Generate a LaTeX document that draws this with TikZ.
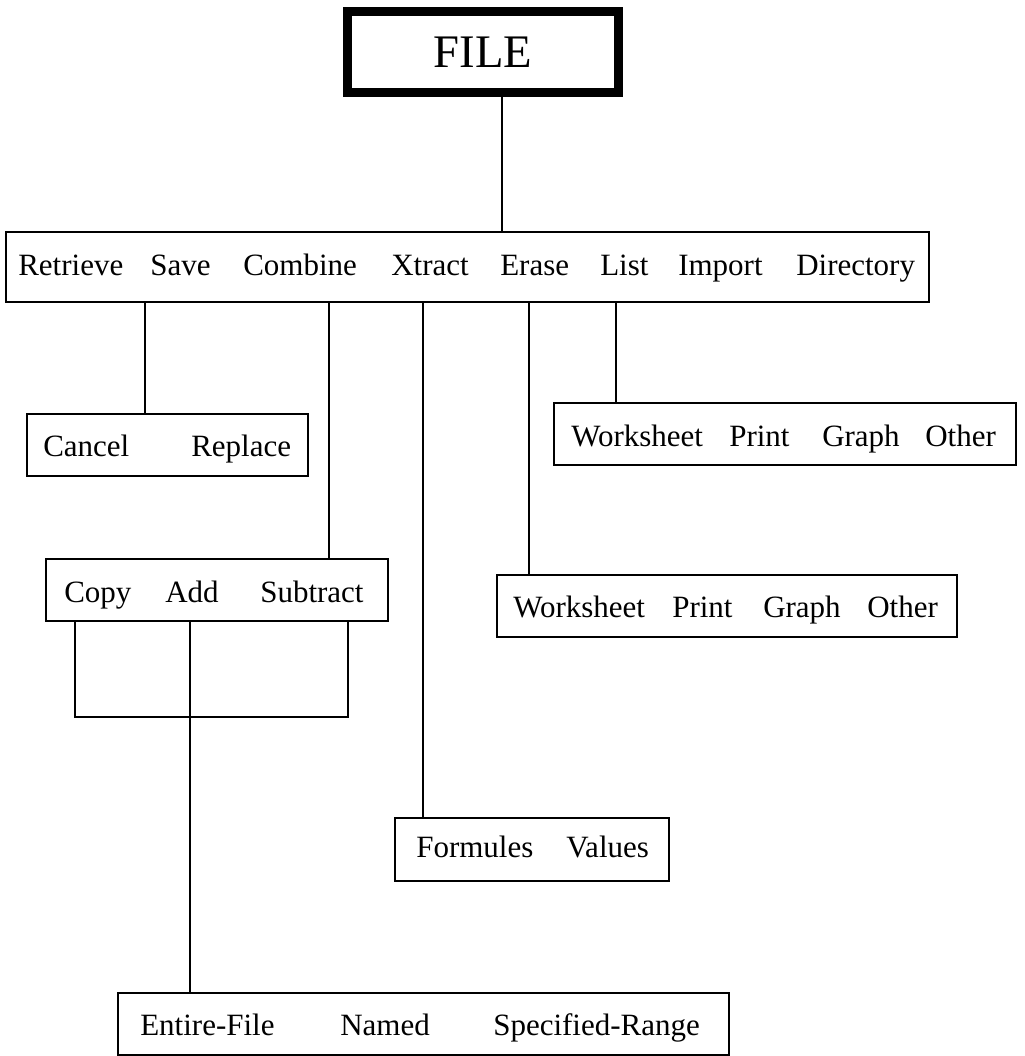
\documentclass[tikz,border=0pt]{standalone}
\usepackage{fontspec}
\setmainfont{Liberation Serif}
\begin{document}
\begin{tikzpicture}[x=0.75pt,y=-0.75pt,
  boxst/.style={draw,line width=1.1pt,inner sep=0pt,outer sep=0pt,minimum height=46.5pt},
  wd/.style={anchor=base west,inner sep=0pt,font=\fontsize{23.25pt}{28pt}\selectfont},
  conn/.style={line width=0.8pt}]
\useasboundingbox (0,0) rectangle (1024,1056);
% boxes
\node[boxst,line width=6.75pt,minimum width=203.25pt,minimum height=60.75pt,
      font=\fontsize{35pt}{40pt}\selectfont] (file) at (483,52) {FILE};
\node[boxst,minimum width=692.25pt,minimum height=52.5pt] (menu) at (467.5,267) {};
\node[boxst,minimum width=210.75pt] (cancel) at (167.5,445) {};
\node[boxst,minimum width=256.5pt] (copy) at (217,590) {};
\node[boxst,minimum width=346.5pt] (ws1) at (785,434) {};
\node[boxst,minimum width=345pt] (ws2) at (727,606) {};
\node[boxst,minimum width=205.5pt,minimum height=47.25pt] (form) at (532,849.5) {};
\node[boxst,minimum width=458.25pt] (entire) at (423.5,1024) {};
% words
\node[wd] (m1) at (18,275) {Retrieve};
\node[wd] (m2) at (150,275) {Save};
\node[wd] (m3) at (243,275) {Combine};
\node[wd] (m4) at (391,275) {Xtract};
\node[wd] (m5) at (500,275) {Erase};
\node[wd] (m6) at (600,275) {List};
\node[wd] (m7) at (678,275) {Import};
\node[wd] (m8) at (796,275) {Directory};
\node[wd] (c1) at (43,456) {Cancel};
\node[wd] (c2) at (191,456) {Replace};
\node[wd] (p1) at (64,602) {Copy};
\node[wd] (p2) at (165,602) {Add};
\node[wd] (p3) at (260,602) {Subtract};
\node[wd] (a1) at (571,446) {Worksheet};
\node[wd] (a2) at (729,446) {Print};
\node[wd] (a3) at (822,446) {Graph};
\node[wd] (a4) at (925,446) {Other};
\node[wd] (b1) at (513,617) {Worksheet};
\node[wd] (b2) at (672,617) {Print};
\node[wd] (b3) at (763,617) {Graph};
\node[wd] (b4) at (867,617) {Other};
\node[wd] (f1) at (416,857) {Formules};
\node[wd] (f2) at (566,857) {Values};
\node[wd] (e1) at (140,1035) {Entire-File};
\node[wd] (e2) at (340,1035) {Named};
\node[wd] (e3) at (493,1035) {Specified-Range};
% connector positions
\coordinate (x502) at (502,0);
\coordinate (x145) at (145,0);
\coordinate (x329) at (329,0);
\coordinate (x423) at (423,0);
\coordinate (x529) at (529,0);
\coordinate (x616) at (616,0);
\coordinate (x190) at (190,0);
\coordinate (bl) at (75,717);
\coordinate (br) at (348,717);
% connectors
\draw[conn] (file.south -| x502) -- (menu.north -| x502);
\draw[conn] (menu.south -| x145) -- (cancel.north -| x145);
\draw[conn] (menu.south -| x329) -- (copy.north -| x329);
\draw[conn] (menu.south -| x423) -- (form.north -| x423);
\draw[conn] (menu.south -| x529) -- (ws2.north -| x529);
\draw[conn] (menu.south -| x616) -- (ws1.north -| x616);
\draw[conn] (copy.south -| bl) -- (bl) -- (br) -- (copy.south -| br);
\draw[conn] (copy.south -| x190) -- (entire.north -| x190);
\end{tikzpicture}
\end{document}
